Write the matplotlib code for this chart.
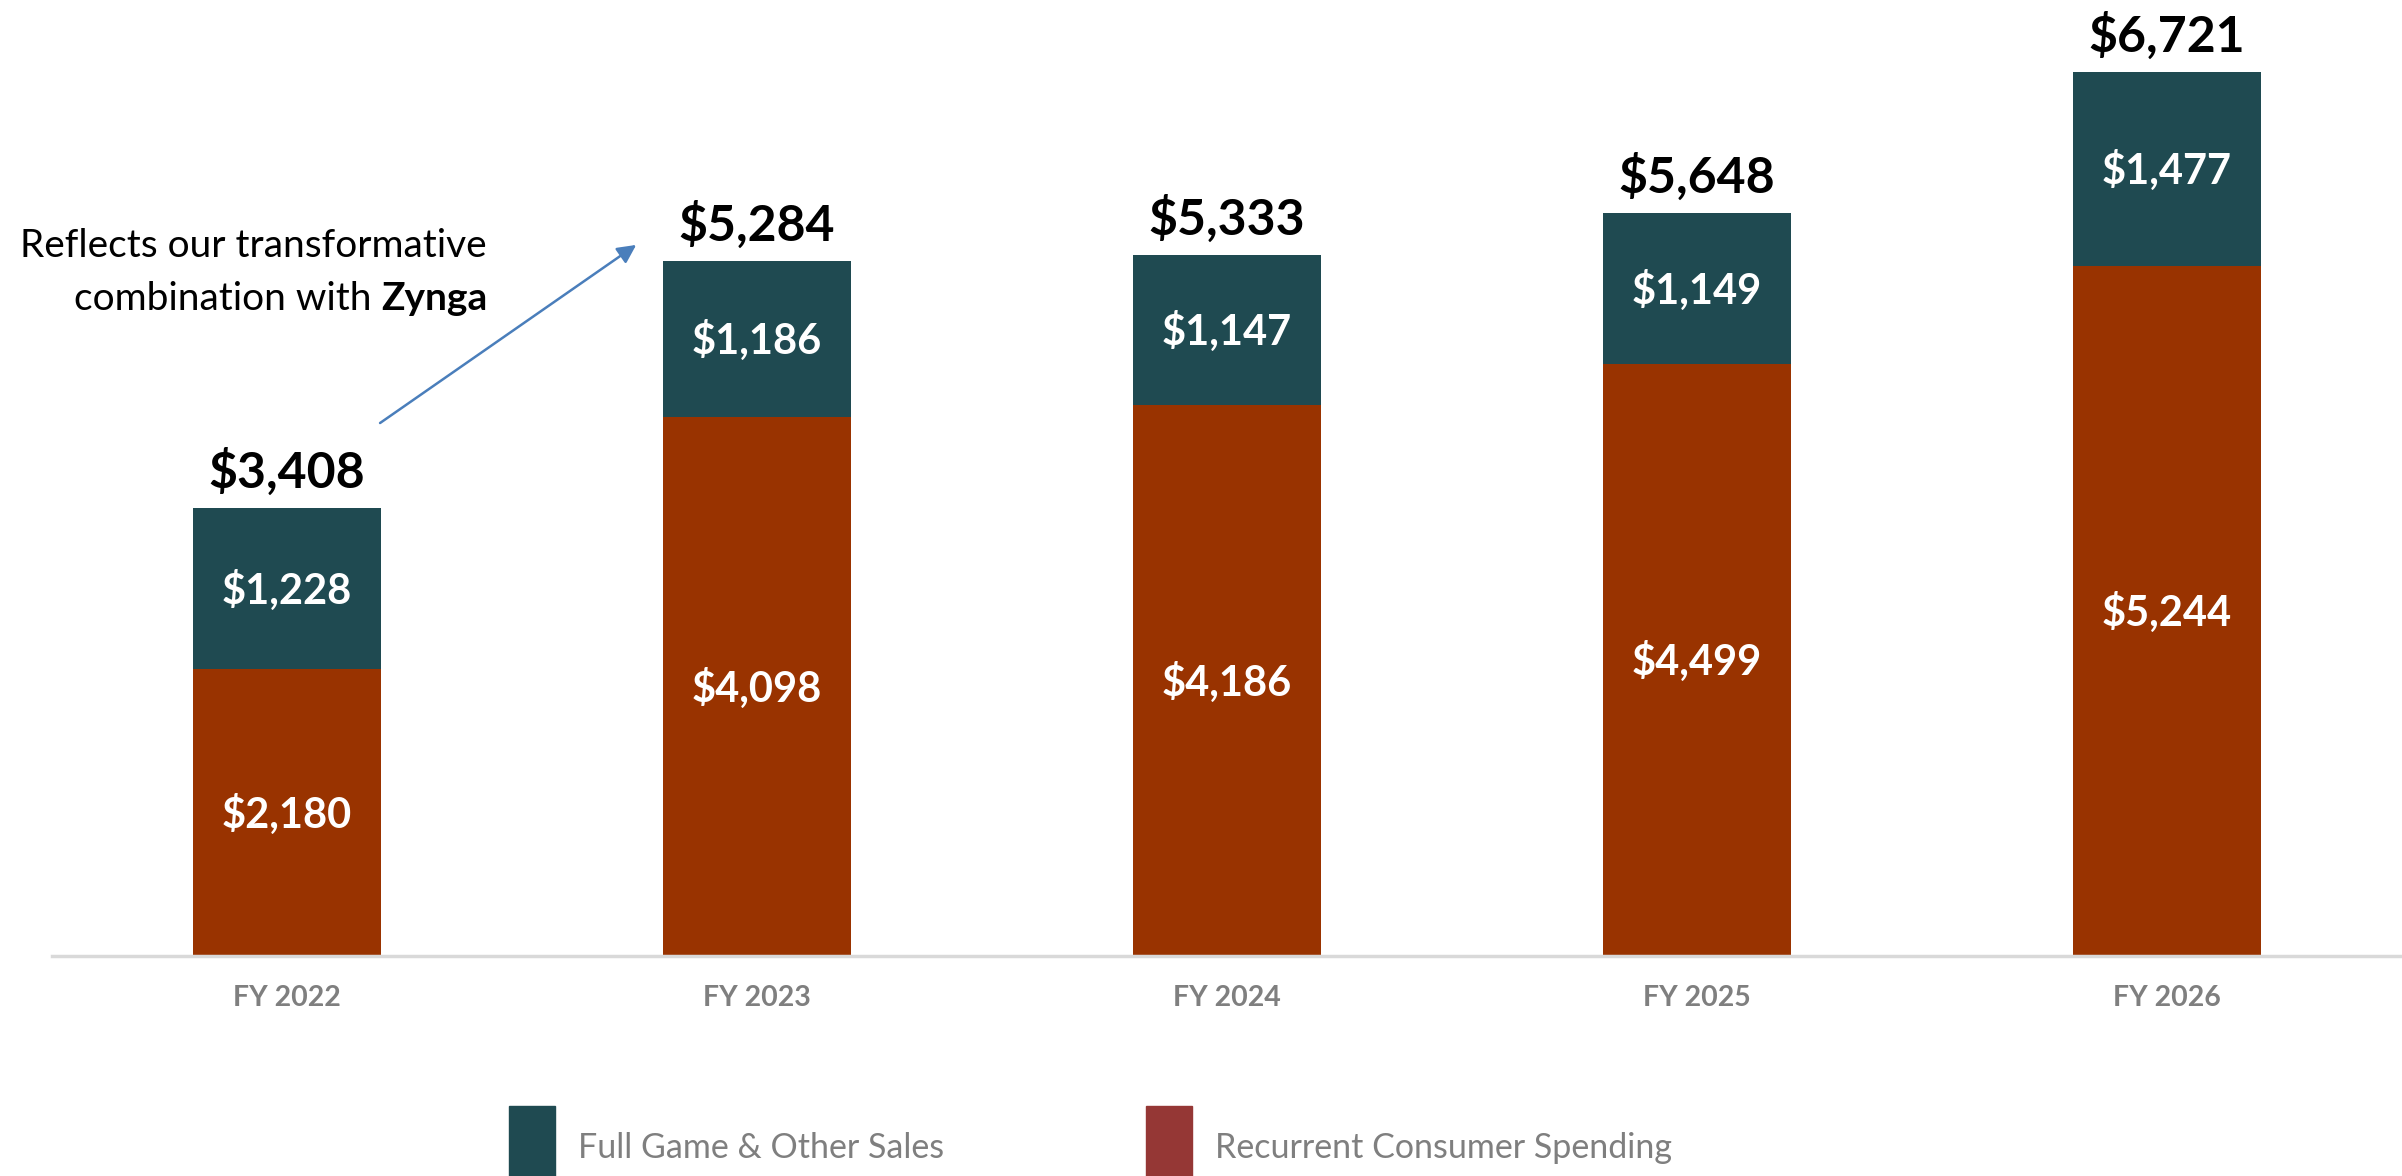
import matplotlib
matplotlib.use("Agg")
import matplotlib.pyplot as plt
from matplotlib.patches import Rectangle
import numpy as np

# Revenue by fiscal year ($ millions)
years = ["FY 2022", "FY 2023", "FY 2024", "FY 2025", "FY 2026"]
recurrent = [2180, 4098, 4186, 4499, 5244]
full_game = [1228, 1186, 1147, 1149, 1477]
totals = [3408, 5284, 5333, 5648, 6721]
series_names = ["Full Game & Other Sales", "Recurrent Consumer Spending"]

teal = "#1f4a51"
rust = "#993300"
legend_colors = ["#1f4a51", "#953735"]
grey_text = "#7f7f7f"

plt.rcParams["font.family"] = ["Lato", "DejaVu Sans"]

W, H = 2402, 1176
fig = plt.figure(figsize=(W / 100, H / 100), dpi=100)
ax = fig.add_axes([52 / W, 220 / H, 1 - 52 / W, 956 / H])

x = np.arange(len(years))
bw = 0.4
ax.bar(x, recurrent, bw, color=rust, zorder=2)
ax.bar(x, full_game, bw, bottom=recurrent, color=teal, zorder=2)

ax.set_xlim(-0.5, len(years) - 0.5)
ax.set_ylim(0, 7268)

for s in ["top", "right", "left"]:
    ax.spines[s].set_visible(False)
ax.spines["bottom"].set_color("#d9d9d9")
ax.spines["bottom"].set_linewidth(2.5)
ax.set_yticks([])
ax.set_xticks(x)
ax.set_xticklabels(years, fontsize=20.5, fontweight="bold", color=grey_text)
ax.tick_params(axis="x", length=0, pad=21)

# Segment labels, digits centred in each segment
for xi, r, f in zip(x, recurrent, full_game):
    for yc, v in ((r / 2, r), (r + f / 2, f)):
        ax.annotate(f"${v:,}", xy=(xi, yc), xytext=(0, -10.8), textcoords="offset points",
                    ha="center", va="baseline", color="white",
                    fontsize=30, fontweight="bold", zorder=3)

# Totals above bars
for xi, t in zip(x, totals):
    ax.annotate(f"${t:,}", xy=(xi, t), xytext=(0, 14.5), textcoords="offset points",
                ha="center", va="baseline", fontsize=36, fontweight="bold", color="black")

# Callout for the Zynga combination
ax.annotate("", xy=(0.743, 5406), xytext=(0.198, 4052),
            arrowprops=dict(arrowstyle="-|>", color="#4a7ebb", lw=1.8,
                            mutation_scale=28, shrinkA=0, shrinkB=0))
fig.text(487 / W, 1 - 246 / H, "Reflects our transformative", ha="right", va="center",
         fontsize=28, color="black")
zy = fig.text(487 / W, 1 - 299 / H, "Zynga", ha="right", va="center",
              fontsize=28, fontweight="bold", color="black")
fig.canvas.draw()
zx0 = zy.get_window_extent().x0
fig.text((zx0 - 9) / W, 1 - 299 / H, "combination with", ha="right", va="center",
         fontsize=28, color="black")

# Legend drawn along the bottom edge
legend_items = [(509, 578, series_names[0], legend_colors[0]),
                (1146, 1215, series_names[1], legend_colors[1])]
for px, tx, name, col in legend_items:
    fig.patches.append(Rectangle((px / W, -0.02), 46 / W, (70 / H) + 0.02,
                                 transform=fig.transFigure, color=col, clip_on=False))
    fig.text(tx / W, 28 / H, name, ha="left", va="center", fontsize=24.5, color=grey_text)

fig.savefig("out.png", dpi=100)
